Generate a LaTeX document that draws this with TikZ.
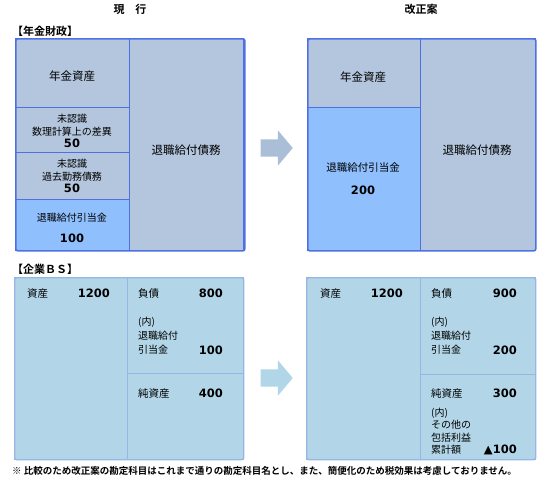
\documentclass[tikz,border=0pt]{standalone}
\usepackage{fontspec}
\setmainfont{Noto Sans CJK JP}[BoldFont={Noto Sans CJK JP Bold}]
\newfontfamily\numfont{DejaVu Sans}
\usetikzlibrary{shapes.arrows,positioning}

\definecolor{frameblue}{RGB}{78,112,228}
\definecolor{penfill}{RGB}{179,198,221}
\definecolor{ltblue}{RGB}{143,191,253}
\definecolor{bsfill}{RGB}{178,214,232}
\definecolor{bsline}{RGB}{150,182,228}
\definecolor{arrowgray}{RGB}{170,190,215}
\definecolor{arrowcyan}{RGB}{176,214,232}

\begin{document}
\begin{tikzpicture}[
  x=1pt, y=-1pt,
  font=\fontsize{10.5}{13}\selectfont,
  cell/.style={draw=frameblue, line width=1.4pt, anchor=north west, inner sep=0pt, fill=penfill},
  bscell/.style={draw=bsline, line width=1pt, anchor=north west, inner sep=0pt, fill=bsfill},
  frame/.style={draw=frameblue, line width=1.6pt, rounded corners=2pt, anchor=north west, inner sep=0pt},
  bsframe/.style={draw=bsline, line width=1.4pt, rounded corners=2pt, anchor=north west, inner sep=0pt},
  heading/.style={font=\bfseries\fontsize{11}{13}\selectfont},
  big/.style={inner sep=0pt, font=\fontsize{11.5}{13}\selectfont},
  small/.style={inner sep=0pt, align=center, font=\fontsize{10}{12.5}\selectfont},
  lbl/.style={anchor=base west, inner sep=0pt},
  val/.style={anchor=base east, inner sep=0pt, font=\numfont\bfseries\fontsize{11.5}{13}\selectfont},
  note/.style={anchor=north west, inner sep=0pt, align=left, font=\fontsize{10}{14}\selectfont},
  blockarrow/.style={single arrow, single arrow head extend=9pt, single arrow tip angle=100,
    minimum height=32pt, inner xsep=0pt, inner ysep=8.5pt, draw=none, anchor=tip}
]
\useasboundingbox (0,0) rectangle (550,480);

\node[heading] (cur) at (130,9) {現　行};
\node[heading] (rev) at (421,9) {改正案};
\node[heading, anchor=west, inner sep=0pt] (pfin) at (12,31) {【年金財政】};
\node[heading, anchor=west, inner sep=0pt] (cbs) at (12,269) {【企業ＢＳ】};

% pension finance, current
\node[cell, minimum width=114pt, minimum height=69pt] (pa1) at (15,38) {};
\node[cell, minimum width=114pt, minimum height=45pt] (ag1) at (15,107) {};
\node[cell, minimum width=114pt, minimum height=47pt] (ps1) at (15,152) {};
\node[cell, fill=ltblue, minimum width=114pt, minimum height=51pt] (rl1) at (15,199) {};
\node[cell, minimum width=114pt, minimum height=212pt] (db1) at (129,38) {};
\node[frame, minimum width=229pt, minimum height=212pt] (pf1) at (15,38) {};

\node[big] (pa1t) at (72,76) {年金資産};
\node[small] (ag1t) at (72,131) {未認識\\数理計算上の差異\\{\numfont\bfseries\fontsize{11.5}{12.5}\selectfont 50}};
\node[small] (ps1t) at (72,176) {未認識\\過去勤務債務\\{\numfont\bfseries\fontsize{11.5}{12.5}\selectfont 50}};
\node[small] (rl1t) at (72,218) {退職給付引当金};
\node[val, anchor=center] (rl1v) at (72,238) {100};
\node[big] (db1t) at (186,150) {退職給付債務};

% pension finance, revised
\node[cell, minimum width=113pt, minimum height=69pt] (pa2) at (307,38) {};
\node[cell, fill=ltblue, minimum width=113pt, minimum height=143pt] (rl2) at (307,107) {};
\node[cell, minimum width=115pt, minimum height=212pt] (db2) at (420,38) {};
\node[frame, minimum width=228pt, minimum height=212pt] (pf2) at (307,38) {};

\node[big] (pa2t) at (363,77) {年金資産};
\node[inner sep=0pt] (rl2t) at (363,168) {退職給付引当金};
\node[val, anchor=center] (rl2v) at (363,190) {200};
\node[big] (db2t) at (477,150) {退職給付債務};

\node[blockarrow, fill=arrowgray] (ar1) at (293,148) {};
\node[blockarrow, fill=arrowcyan] (ar2) at (293,378) {};

% company balance sheet, current
\node[bscell, minimum width=113pt, minimum height=182pt] (as1) at (14,277) {};
\node[bscell, minimum width=116pt, minimum height=96pt] (li1) at (127,277) {};
\node[bscell, minimum width=116pt, minimum height=86pt] (eq1) at (127,373) {};
\node[bsframe, minimum width=229pt, minimum height=182pt] (bf1) at (14,277) {};

\node[lbl] (as1l) at (27,297) {資産};
\node[val] (as1v) at (110,297) {1200};
\node[lbl] (li1l) at (138,297) {負債};
\node[val] (li1v) at (223,297) {800};
\node[note] (li1n) at (138,317) {(内)\\退職給付\\引当金};
\node[val] (li1w) at (223,354) {100};
\node[lbl] (eq1l) at (138,397) {純資産};
\node[val] (eq1v) at (223,397) {400};

% company balance sheet, revised
\node[bscell, minimum width=114pt, minimum height=182pt] (as2) at (306,277) {};
\node[bscell, minimum width=115pt, minimum height=97pt] (li2) at (420,277) {};
\node[bscell, minimum width=115pt, minimum height=85pt] (eq2) at (420,374) {};
\node[bsframe, minimum width=229pt, minimum height=182pt] (bf2) at (306,277) {};

\node[lbl] (as2l) at (320,297) {資産};
\node[val] (as2v) at (403,297) {1200};
\node[lbl] (li2l) at (431,297) {負債};
\node[val] (li2v) at (517,297) {900};
\node[note] (li2n) at (431,317) {(内)\\退職給付\\引当金};
\node[val] (li2w) at (517,354) {200};
\node[lbl] (eq2l) at (431,397) {純資産};
\node[val] (eq2v) at (517,397) {300};
\node[note, font=\fontsize{10}{12.3}\selectfont] (eq2n) at (431,408) {(内)\\その他の\\包括利益\\累計額};
\node[val] (eq2w) at (517,453) {▲100};

\node[anchor=west, inner sep=0pt, font=\bfseries\fontsize{9.5}{11}\selectfont] (fn) at (12,471)
  {※ 比較のため改正案の勘定科目はこれまで通りの勘定科目名とし、また、簡便化のため税効果は考慮しておりません。};
\end{tikzpicture}
\end{document}
